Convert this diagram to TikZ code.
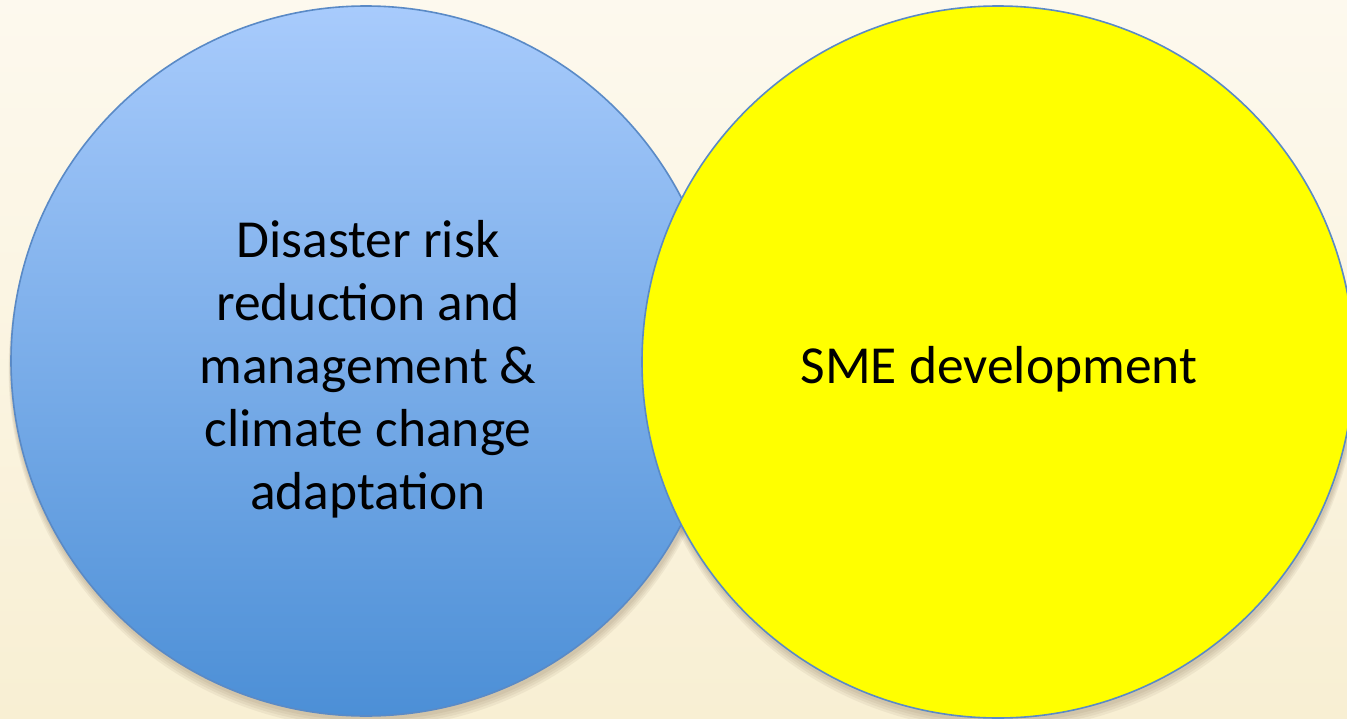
\documentclass[tikz,border=0pt]{standalone}
\usepackage{fontspec}
\setmainfont{Carlito}
\definecolor{bgtop}{HTML}{FDF9EE}
\definecolor{bgbot}{HTML}{F8EFD3}
\definecolor{bluetop}{HTML}{A8CBFC}
\definecolor{bluebot}{HTML}{4C8FD6}
\definecolor{edgeblue}{HTML}{5A8AC6}
\definecolor{sme}{HTML}{FFFF00}
\begin{document}
\begin{tikzpicture}[x=1pt,y=-1pt,
  circ/.style={draw=edgeblue, line width=1.6pt},
  shad/.style={fill=black!60!brown, fill opacity=0.06, draw=none},
  lbl/.style={align=center, font=\fontsize{53.5}{63}\selectfont, text=black}]
\shade[top color=bgtop, bottom color=bgbot] (0,0) rectangle (1347,718);
\useasboundingbox (0,0) rectangle (1347,718);
% soft shadows
\foreach \d in {2,4,6,8} {
  \fill[shad] (367,362+\d) circle (356+\d*0.3);
  \fill[shad] (999,364+\d) circle (356+\d*0.3);
}
\shade[circ, top color=bluetop, bottom color=bluebot] (366,361) circle (355);
\node[lbl] (drr) at (368,369) {Disaster risk\\reduction and\\management \&\\climate change\\adaptation};
\fill[sme] (998,362) circle (356);
\draw[circ] (998,362) circle (356);
\node[lbl] (smed) at (999,369) {SME development};
\end{tikzpicture}
\end{document}
